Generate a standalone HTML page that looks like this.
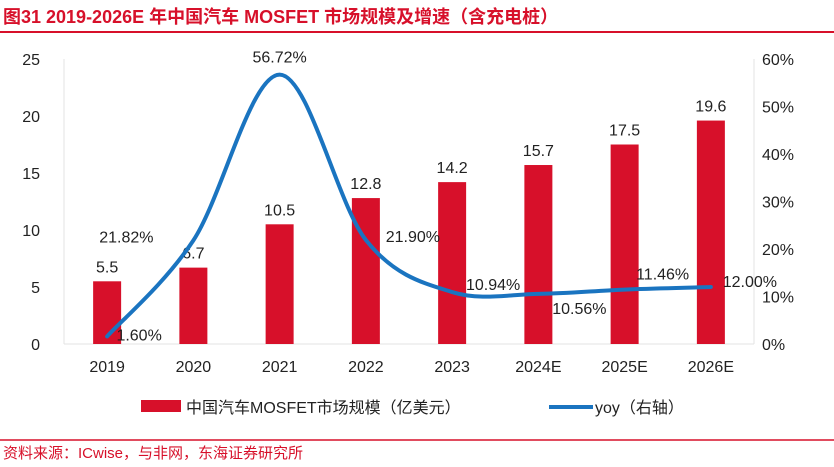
<!DOCTYPE html>
<html><head><meta charset="utf-8"><style>
body{margin:0;background:#fff;font-family:"Liberation Sans","Noto Sans CJK SC",sans-serif}
#wrap{position:relative;width:834px;height:467px;overflow:hidden}
</style></head><body>
<div id="wrap">
<svg id="svg" width="834" height="467" xmlns="http://www.w3.org/2000/svg" font-family="Liberation Sans, Noto Sans CJK SC, sans-serif">
<text x="3" y="23" font-size="18" font-weight="bold" fill="#d7102a">图31  2019-2026E 年中国汽车 MOSFET 市场规模及增速（含充电桩）</text>
<line x1="0" y1="32" x2="834" y2="32" stroke="#d7102a" stroke-width="2"/>
<g id="plot"></g>
<g>
<rect x="141" y="400" width="40" height="12" fill="#d7102a"/>
<text x="186" y="413" font-size="16" fill="#222">中国汽车MOSFET市场规模（亿美元）</text>
<line x1="549" y1="407" x2="593" y2="407" stroke="#1a74c0" stroke-width="4"/>
<text x="595" y="413" font-size="16" fill="#222">yoy（右轴）</text>
</g>
<line x1="0" y1="440" x2="834" y2="440" stroke="#d7102a" stroke-width="1.5"/>
<text x="3" y="458" font-size="15" fill="#d7102a">资料来源：ICwise，与非网，东海证券研究所</text>
</svg>
</div>
<script>
const categories=["2019","2020","2021","2022","2023","2024E","2025E","2026E"];
const marketSize=[5.5,6.7,10.5,12.8,14.2,15.7,17.5,19.6];
const yoy=[1.60,21.82,56.72,21.90,10.94,10.56,11.46,12.00];
const leftTicks=[0,5,10,15,20,25];
const rightTicks=[0,10,20,30,40,50,60];
const NS="http://www.w3.org/2000/svg";
const plot=document.getElementById('plot');
const X0=64,X1=754,Y0=344,Y1=59;
const band=(X1-X0)/categories.length;
const xC=i=>X0+band*(i+0.5);
const yL=v=>Y0-(v/25)*(Y0-Y1);
const yR=v=>Y0-(v/60)*(Y0-Y1);
function mk(t,a,txt){const e=document.createElementNS(NS,t);for(const k in a)e.setAttribute(k,a[k]);if(txt!==undefined)e.textContent=txt;plot.appendChild(e);return e;}
let ax=mk('line',{x1:X0,y1:Y1,x2:X0,y2:Y0,stroke:'#e3e3e3'});


ax=mk('line',{x1:X1,y1:Y1,x2:X1,y2:Y0,stroke:'#e3e3e3'});


ax=mk('line',{x1:X0,y1:Y0,x2:X1,y2:Y0,stroke:'#e3e3e3'});


leftTicks.forEach(v=>{const t=mk('text',{x:40,y:yL(v)+6,'font-size':16,'text-anchor':'end',fill:'#222'},String(v));

});
rightTicks.forEach(v=>{const t=mk('text',{x:762,y:yR(v)+6,'font-size':16,fill:'#222'},v+'%');

});
categories.forEach((c,i)=>{const t=mk('text',{x:xC(i),y:372,'font-size':16,'text-anchor':'middle',fill:'#222'},c);

});
marketSize.forEach((v,i)=>{const r=mk('rect',{x:xC(i)-14,y:yL(v),width:28,height:Y0-yL(v),fill:'#d7102a'});


const t=mk('text',{x:xC(i),y:yL(v)-9,'font-size':16,'text-anchor':'middle',fill:'#222'},v.toFixed(1));

});
const pts=yoy.map((v,i)=>[xC(i),yR(v)]);
let d='M'+pts[0][0]+','+pts[0][1];
for(let i=0;i<pts.length-1;i++){const p0=pts[Math.max(0,i-1)],p1=pts[i],p2=pts[i+1],p3=pts[Math.min(pts.length-1,i+2)];
d+=' C'+(p1[0]+(p2[0]-p0[0])/6)+','+(p1[1]+(p2[1]-p0[1])/6)+' '+(p2[0]-(p3[0]-p1[0])/6)+','+(p2[1]-(p3[1]-p1[1])/6)+' '+p2[0]+','+p2[1];}
const ln=mk('path',{d:d,fill:'none',stroke:'#1a74c0','stroke-width':4,'stroke-linecap':'round'});


const offs=[[32,-2],[-67,-4],[0,-18],[47,-4],[41,-8],[41,14],[38,-16],[39,-6]];
yoy.forEach((v,i)=>{const t=mk('text',{x:pts[i][0]+offs[i][0],y:pts[i][1]+offs[i][1]+6,'font-size':16,'text-anchor':'middle',fill:'#222'},v.toFixed(2)+'%');

});
</script>
</body></html>
